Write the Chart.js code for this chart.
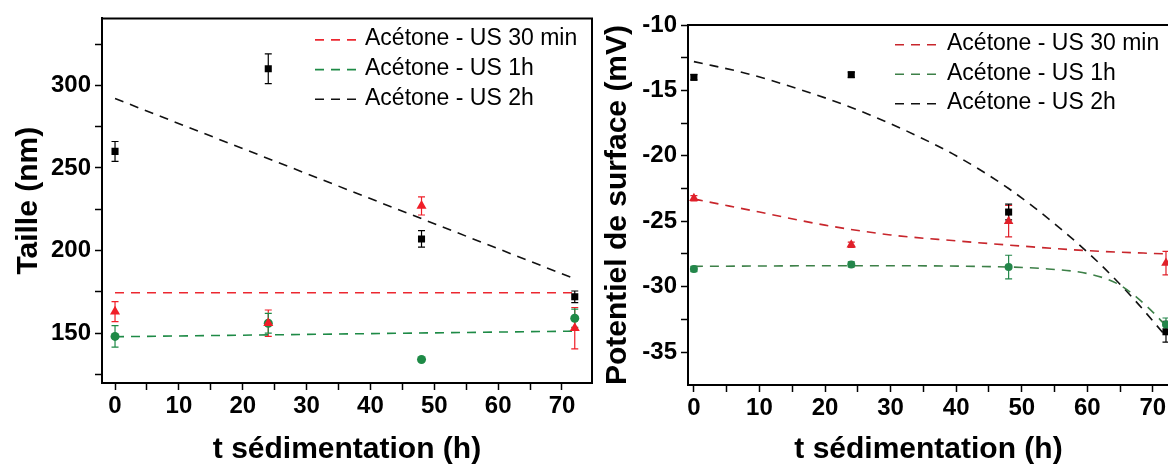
<!DOCTYPE html>
<html lang="fr">
<head>
<meta charset="utf-8">
<title>Taille et potentiel de surface</title>
<script src="https://cdn.jsdelivr.net/npm/chart.js@4.4.0/dist/chart.umd.min.js"></script>
<style>
  html, body { margin: 0; padding: 0; background: #fff; width: 1168px; height: 466px; overflow: hidden; }
  canvas { position: absolute; top: 0; }
  #graficoTaille { left: 0; }
  #graficoPotentiel { left: 596px; }
</style>
</head>
<body>
<canvas id="graficoTaille" width="600" height="466"></canvas>
<canvas id="graficoPotentiel" width="580" height="466"></canvas>
<script>
Chart.defaults.font.family = "'Liberation Sans', Arial, sans-serif";
Chart.defaults.color = '#000';

var series = ['Acétone - US 30 min', 'Acétone - US 1h', 'Acétone - US 2h'];
var heures = [0, 24, 48, 72];

// axe x commun
var ticksX = [0, 5, 10, 15, 20, 25, 30, 35, 40, 45, 50, 55, 60, 65, 70];
var etiquettesX = [0, 10, 20, 30, 40, 50, 60, 70];

// taille (nm)
var tailleUS30 = [163, 156, 227, 153];
var tailleUS30Err = [6, 8, 5.5, 12.5];
var tailleUS1h = [148, 156, 134, 159];
var tailleUS1hErr = [6.5, 6, 1, 5.5];
var tailleUS2h = [260, 310, 207, 172];
var tailleUS2hErr = [6, 9, 5, 3.5];

var ajustTailleT = [0, 72];
var ajustTailleUS30 = [174.4, 174.4];
var ajustTailleUS1h = [147.8, 151.2];
var ajustTailleUS2h = [292, 182.9];

var ticksTaille = [125, 150, 175, 200, 225, 250, 275, 300, 325];
var etiquettesTaille = [150, 200, 250, 300];

// potentiel de surface (mV)
var potUS30 = [-23.25, -26.8, -25.0, -28.2];
var potUS30Err = [0.2, 0.2, 1.2, 0.9];
var potUS1h = [-28.65, -28.3, -28.5, -32.9];
var potUS1hErr = [0.2, 0.2, 0.9, 0.5];
var potUS2h = [-14.0, -13.8, -24.3, -33.45];
var potUS2hErr = [0.2, 0.2, 0.6, 0.8];

var ajustPotUS30T = [0, 10, 20, 30, 40, 50, 60, 72];
var ajustPotUS30 = [-23.3, -24.3, -25.3, -26.05, -26.5, -26.9, -27.25, -27.5];
var ajustPotUS1hT = [0, 24, 48, 54, 60, 64.5, 67.5, 70.5, 72];
var ajustPotUS1h = [-28.45, -28.4, -28.5, -28.65, -29.0, -29.75, -30.8, -32.2, -33.0];
var ajustPotUS2hT = [0, 8, 16, 24, 32, 40, 48, 56, 62, 67, 72];
var ajustPotUS2h = [-12.8, -13.7, -14.9, -16.3, -18.0, -20.0, -22.5, -25.6, -28.3, -30.9, -33.8];

var ticksPot = [-35, -32.5, -30, -27.5, -25, -22.5, -20, -17.5, -15, -12.5, -10];
var etiquettesPot = [-35, -30, -25, -20, -15, -10];

function points(xs, ys) {
	return xs.map(function (x, i) { return { x: x, y: ys[i] }; });
}

function mesures(nom, ys, err, couleur, forme, rayon) {
	return {
		label: nom,
		data: points(heures, ys),
		erreurs: err,
		couleurErreur: couleur,
		showLine: false,
		pointStyle: forme,
		pointRadius: rayon,
		backgroundColor: couleur,
		borderColor: couleur,
		borderWidth: 0
	};
}

function ajustement(nom, xs, ys, couleur) {
	return {
		label: nom,
		ajustement: true,
		data: points(xs, ys),
		showLine: true,
		cubicInterpolationMode: 'monotone',
		borderColor: couleur,
		borderWidth: 1.6,
		borderDash: [9, 7],
		pointRadius: 0,
		fill: false
	};
}

// barres d'erreur verticales avec petits chapeaux
var barresErreur = {
	id: 'barresErreur',
	beforeDatasetsDraw: function (chart) {
		var ctx = chart.ctx, echY = chart.scales.y;
		chart.data.datasets.forEach(function (ds, i) {
			if (!ds.erreurs) return;
			var meta = chart.getDatasetMeta(i);
			ctx.save();
			ctx.strokeStyle = ds.couleurErreur;
			ctx.lineWidth = 1.2;
			meta.data.forEach(function (pt, j) {
				var v = ds.data[j].y, e = ds.erreurs[j];
				var haut = echY.getPixelForValue(v + e);
				var bas = echY.getPixelForValue(v - e);
				ctx.beginPath();
				ctx.moveTo(pt.x, haut); ctx.lineTo(pt.x, bas);
				ctx.moveTo(pt.x - 3.5, haut); ctx.lineTo(pt.x + 3.5, haut);
				ctx.moveTo(pt.x - 3.5, bas); ctx.lineTo(pt.x + 3.5, bas);
				ctx.stroke();
			});
			ctx.restore();
		});
	}
};

// cadre haut et droit
var cadre = {
	id: 'cadre',
	afterDraw: function (chart) {
		var ctx = chart.ctx, a = chart.chartArea;
		ctx.save();
		ctx.strokeStyle = '#000';
		ctx.lineWidth = 2;
		ctx.beginPath();
		ctx.moveTo(a.left, a.top);
		ctx.lineTo(a.right, a.top);
		ctx.lineTo(a.right, a.bottom);
		ctx.stroke();
		ctx.restore();
	}
};

// légende dans le graphique, seulement les courbes d'ajustement
var legende = {
	id: 'legende',
	afterDraw: function (chart, args, opts) {
		var ctx = chart.ctx, a = chart.chartArea;
		var x0 = a.left + opts.gauche;
		var k = 0;
		ctx.save();
		ctx.font = '23px ' + Chart.defaults.font.family;
		ctx.textBaseline = 'middle';
		ctx.fillStyle = '#000';
		chart.data.datasets.forEach(function (ds) {
			if (!ds.ajustement) return;
			var yy = a.top + opts.haut + k * opts.interligne;
			ctx.strokeStyle = ds.borderColor;
			ctx.lineWidth = ds.borderWidth;
			ctx.setLineDash(ds.borderDash);
			ctx.beginPath();
			ctx.moveTo(x0, yy + 1);
			ctx.lineTo(x0 + opts.longueur, yy + 1);
			ctx.stroke();
			ctx.setLineDash([]);
			ctx.fillText(ds.label, x0 + opts.longueur + 7, yy);
			k++;
		});
		ctx.restore();
	}
};

function echelles(c) {
	var police = { size: 24, weight: 'bold' };
	var titre = { size: 30, weight: 'bold', lineHeight: 1 };
	return {
		x: {
			type: 'linear',
			min: c.xMin,
			max: c.xMax,
			afterBuildTicks: function (s) { s.ticks = ticksX.map(function (v) { return { value: v }; }); },
			afterFit: function (s) { s.height = c.hautX; },
			ticks: {
				font: police, color: '#000', padding: 2, autoSkip: false, maxRotation: 0,
				callback: function (v) { return etiquettesX.indexOf(v) >= 0 ? String(v) : ''; }
			},
			grid: { drawOnChartArea: false, tickLength: 7, tickColor: '#000', tickWidth: 1.5 },
			border: { color: '#000', width: 2 },
			title: { display: true, text: 't sédimentation (h)', font: titre, color: '#000', padding: { top: 0, bottom: 1.5 } }
		},
		y: {
			type: 'linear',
			min: c.yMin,
			max: c.yMax,
			afterBuildTicks: function (s) { s.ticks = c.ticksY.map(function (v) { return { value: v }; }); },
			afterFit: function (s) { s.width = c.largY; },
			ticks: {
				font: police, color: '#000', padding: 4, autoSkip: false,
				callback: function (v) { return c.etiquettesY.indexOf(v) >= 0 ? String(v) : ''; }
			},
			grid: { drawOnChartArea: false, tickLength: 7, tickColor: '#000', tickWidth: 1.5 },
			border: { color: '#000', width: 2 },
			title: { display: true, text: c.titreY, font: titre, color: '#000', padding: { top: c.padTitreY, bottom: 0 } }
		}
	};
}

// Graphique 1 : taille
new Chart(document.getElementById('graficoTaille').getContext('2d'), {
	type: 'scatter',
	data: {
		datasets: [
			mesures(series[0], tailleUS30, tailleUS30Err, '#f01e28', 'triangle', 5.8),
			mesures(series[1], tailleUS1h, tailleUS1hErr, '#1e8a46', 'circle', 4.5),
			mesures(series[2], tailleUS2h, tailleUS2hErr, '#000', 'rect', 5),
			ajustement(series[0], ajustTailleT, ajustTailleUS30, '#ec2830'),
			ajustement(series[1], ajustTailleT, ajustTailleUS1h, '#1e8a46'),
			ajustement(series[2], ajustTailleT, ajustTailleUS2h, '#111')
		]
	},
	options: {
		responsive: false,
		animation: false,
		events: [],
		layout: { padding: { top: 18, right: 8, left: 0, bottom: 0 } },
		scales: echelles({
			xMin: -2.04, xMax: 74.7, hautX: 83,
			yMin: 119.8, yMax: 340.5, largY: 102,
			ticksY: ticksTaille, etiquettesY: etiquettesTaille,
			titreY: 'Taille (nm)', padTitreY: 13.5
		}),
		plugins: {
			legend: { display: false },
			tooltip: { enabled: false },
			legende: { gauche: 213, haut: 20.5, interligne: 29.7, longueur: 43 }
		}
	},
	plugins: [barresErreur, cadre, legende]
});

// Graphique 2 : potentiel de surface
new Chart(document.getElementById('graficoPotentiel').getContext('2d'), {
	type: 'scatter',
	data: {
		datasets: [
			mesures(series[0], potUS30, potUS30Err, '#e0202a', 'triangle', 5.5),
			mesures(series[1], potUS1h, potUS1hErr, '#23864a', 'circle', 4),
			mesures(series[2], potUS2h, potUS2hErr, '#000', 'rect', 5),
			ajustement(series[0], ajustPotUS30T, ajustPotUS30, '#c8262c'),
			ajustement(series[1], ajustPotUS1hT, ajustPotUS1h, '#3d8048'),
			ajustement(series[2], ajustPotUS2hT, ajustPotUS2h, '#111')
		]
	},
	options: {
		responsive: false,
		animation: false,
		events: [],
		layout: { padding: { top: 25, right: 7, left: 0, bottom: 0 } },
		scales: echelles({
			xMin: -0.9, xMax: 72.46, hautX: 81,
			yMin: -37.52, yMax: -10, largY: 92,
			ticksY: ticksPot, etiquettesY: etiquettesPot,
			titreY: 'Potentiel de surface (mV)', padTitreY: 6.5
		}),
		plugins: {
			legend: { display: false },
			tooltip: { enabled: false },
			legende: { gauche: 207, haut: 18.7, interligne: 29.5, longueur: 45 }
		}
	},
	plugins: [barresErreur, cadre, legende]
});
</script>
</body>
</html>
